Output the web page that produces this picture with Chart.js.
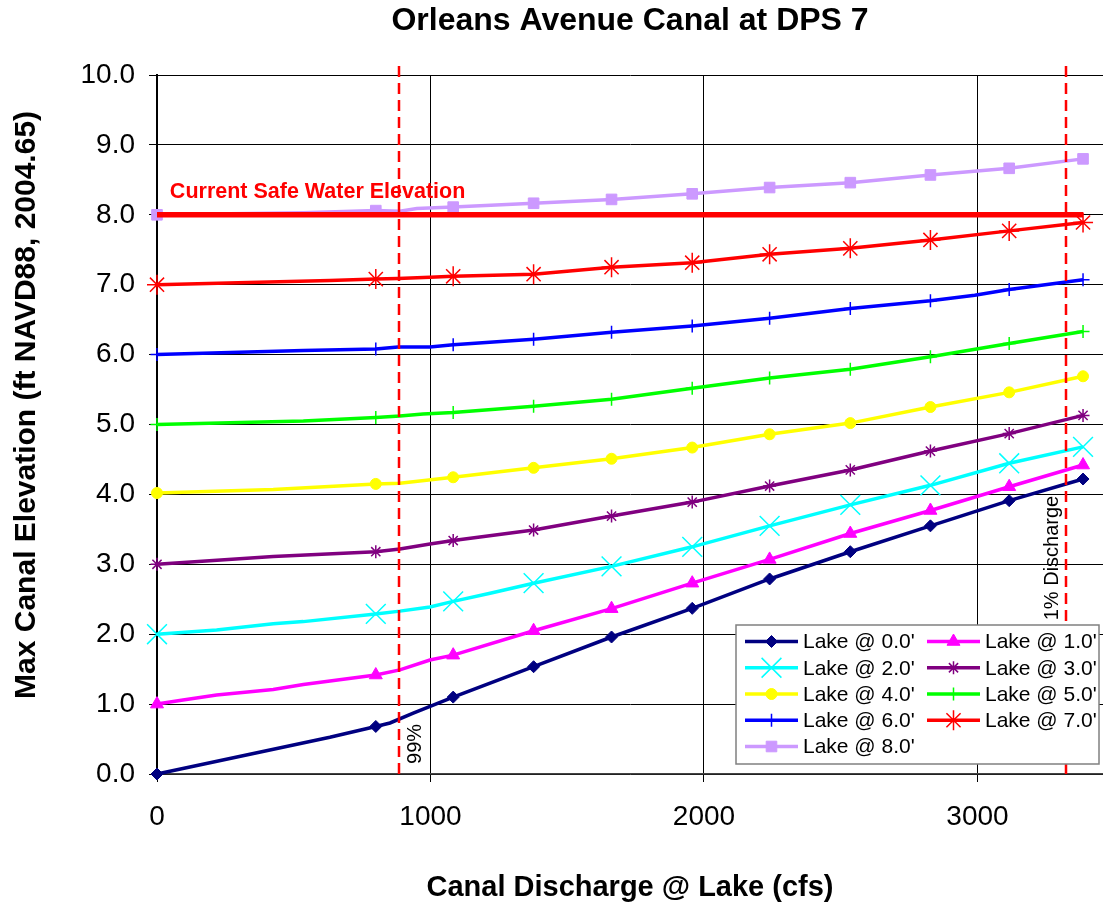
<!DOCTYPE html>
<html>
<head>
<meta charset="utf-8">
<script src="https://cdn.jsdelivr.net/npm/chart.js@4.4.0/dist/chart.umd.min.js"></script>
<style>
  html, body { margin: 0; padding: 0; background: #fff; }
</style>
</head>
<body>
<canvas id="canal-chart" width="1103" height="906"></canvas>
<script>
// discharge values where each curve carries a marker
const markerX = [0, 800, 1083, 1377, 1662, 1957, 2240, 2535, 2828, 3116, 3386];
const dischargeTicks = [0, 1000, 2000, 3000];

// [discharge cfs, max canal elevation ft] per lake level
const lake0 = [[0, 0.0], [632, 0.525], [800, 0.68], [852, 0.73], [937, 0.87], [1083, 1.10], [1377, 1.535], [1662, 1.96], [1957, 2.37], [2240, 2.79], [2535, 3.18], [2828, 3.55], [3116, 3.91], [3386, 4.22]];
const lake1 = [[0, 1.0], [95, 1.06], [218, 1.13], [425, 1.21], [535, 1.28], [800, 1.416], [888, 1.49], [998, 1.63], [1083, 1.70], [1377, 2.05], [1662, 2.365], [1957, 2.73], [2240, 3.07], [2535, 3.44], [2828, 3.77], [3116, 4.11], [3386, 4.42]];
const lake2 = [[0, 2.0], [218, 2.06], [425, 2.15], [535, 2.18], [800, 2.29], [888, 2.33], [998, 2.39], [1083, 2.47], [1218, 2.585], [1377, 2.73], [1662, 2.97], [1957, 3.25], [2240, 3.55], [2535, 3.85], [2828, 4.13], [3116, 4.445], [3386, 4.68]];
const lake3 = [[0, 3.0], [425, 3.11], [800, 3.18], [888, 3.22], [998, 3.29], [1083, 3.34], [1377, 3.49], [1662, 3.69], [1957, 3.89], [2240, 4.12], [2535, 4.35], [2828, 4.62], [3116, 4.87], [3386, 5.13]];
const lake4 = [[0, 4.02], [425, 4.07], [800, 4.15], [888, 4.16], [1083, 4.245], [1377, 4.38], [1662, 4.51], [1957, 4.67], [2240, 4.86], [2535, 5.02], [2828, 5.25], [3116, 5.46], [3386, 5.69]];
const lake5 = [[0, 5.0], [535, 5.05], [800, 5.10], [888, 5.12], [973, 5.15], [1083, 5.17], [1377, 5.26], [1662, 5.36], [1957, 5.52], [2240, 5.665], [2535, 5.79], [2828, 5.97], [3116, 6.16], [3386, 6.33]];
const lake6 = [[0, 6.0], [535, 6.06], [800, 6.08], [881, 6.11], [998, 6.11], [1083, 6.14], [1377, 6.22], [1662, 6.32], [1957, 6.41], [2240, 6.52], [2535, 6.66], [2828, 6.77], [2990, 6.85], [3116, 6.93], [3386, 7.07]];
const lake7 = [[0, 7.0], [632, 7.06], [800, 7.08], [881, 7.09], [998, 7.105], [1083, 7.12], [1377, 7.15], [1662, 7.25], [1957, 7.315], [2240, 7.435], [2535, 7.52], [2828, 7.64], [3116, 7.77], [3386, 7.89]];
const lake8 = [[0, 8.0], [535, 8.03], [800, 8.06], [888, 8.05], [950, 8.09], [1083, 8.11], [1377, 8.165], [1662, 8.22], [1957, 8.30], [2240, 8.39], [2535, 8.46], [2828, 8.57], [3116, 8.665], [3386, 8.80]];

const lakeLabels = ["Lake @ 0.0'", "Lake @ 1.0'", "Lake @ 2.0'", "Lake @ 3.0'", "Lake @ 4.0'", "Lake @ 5.0'", "Lake @ 6.0'", "Lake @ 7.0'", "Lake @ 8.0'"];

const safeElevation = 8.0;
const safeRange = [0, 3386];
const discharge99 = 885;
const discharge1 = 3323;

const FONT = "'Liberation Sans', Arial, sans-serif";

const lakeStyles = [
  { color: "#000080", marker: "rectRot", r: 6, mw: 1 },
  { color: "#ff00ff", marker: "triangle", r: 7.5, mw: 1 },
  { color: "#00ffff", marker: "crossRot", r: 14, mw: 1.5 },
  { color: "#800080", marker: "star", r: 6.5, mw: 1.5 },
  { color: "#ffff00", marker: "circle", r: 5.5, mw: 1 },
  { color: "#00ff00", marker: "cross", r: 6.5, mw: 1.5 },
  { color: "#0000ff", marker: "cross", r: 6.5, mw: 1.5 },
  { color: "#ff0000", marker: "star", r: 10, mw: 1.5 },
  { color: "#cc99ff", marker: "rect", r: 7.5, mw: 1 },
];

const series = [lake0, lake1, lake2, lake3, lake4, lake5, lake6, lake7, lake8];

const datasets = series.map((pts, i) => {
  const s = lakeStyles[i];
  return {
    label: lakeLabels[i],
    data: pts.map(([x, y]) => ({ x, y })),
    borderColor: s.color,
    backgroundColor: s.color,
    borderWidth: 3.5,
    pointStyle: s.marker,
    pointRadius: (c) => (c.raw && markerX.includes(c.raw.x) ? s.r : 0),
    pointBorderWidth: s.mw,
    pointBorderColor: s.color,
    pointBackgroundColor: s.color,
    pointHoverRadius: 0,
    tension: 0,
    clip: false,
    order: -i,
  };
});

datasets.push({
  label: "",
  safeLine: true,
  data: safeRange.map((x) => ({ x, y: safeElevation })),
  borderColor: "#ff0000",
  borderWidth: 5.5,
  pointRadius: 0,
  tension: 0,
  order: -20,
});

function verticalText(ctx, text, cx, cy) {
  ctx.save();
  ctx.translate(cx, cy);
  ctx.rotate(-Math.PI / 2);
  ctx.textAlign = "center";
  ctx.textBaseline = "middle";
  ctx.fillText(text, 0, 0);
  ctx.restore();
}

// dashed discharge markers, text notes, y title and the boxed legend
const annotations = {
  id: "annotations",
  afterDatasetsDraw(chart) {
    const { ctx, chartArea, scales: { x, y } } = chart;
    ctx.save();
    ctx.strokeStyle = "#ff0000";
    ctx.lineWidth = 2.5;
    ctx.setLineDash([11, 6]);
    [discharge99, discharge1].forEach((v) => {
      const px = Math.round(x.getPixelForValue(v));
      ctx.beginPath();
      ctx.moveTo(px, chartArea.top - 9);
      ctx.lineTo(px, chartArea.bottom);
      ctx.stroke();
    });
    ctx.setLineDash([]);

    ctx.fillStyle = "#000";
    ctx.font = "20px " + FONT;
    verticalText(ctx, "99%", x.getPixelForValue(discharge99) + 16, y.getPixelForValue(0.43));
    verticalText(ctx, "1% Discharge", x.getPixelForValue(discharge1) - 13, y.getPixelForValue(3.09));

    ctx.font = "bold 30px " + FONT;
    verticalText(ctx, "Max Canal Elevation (ft NAVD88, 2004.65)", 27, y.getPixelForValue(5.28));

    ctx.fillStyle = "#ff0000";
    ctx.font = "bold 21.5px " + FONT;
    ctx.textAlign = "left";
    ctx.textBaseline = "alphabetic";
    ctx.fillText("Current Safe Water Elevation", x.getPixelForValue(47), y.getPixelForValue(safeElevation) - 17);
    ctx.restore();
  },
  afterDraw(chart) {
    const { ctx, chartArea } = chart;
    const items = chart.data.datasets.filter((d) => !d.safeLine);
    const boxR = chartArea.right - 4, boxB = chartArea.bottom - 10;
    const boxW = 363, boxH = 139;
    const boxL = boxR - boxW, boxT = boxB - boxH;
    ctx.save();
    ctx.fillStyle = "#fff";
    ctx.fillRect(boxL, boxT, boxW, boxH);
    ctx.strokeStyle = "#808080";
    ctx.lineWidth = 1.5;
    ctx.strokeRect(boxL, boxT, boxW, boxH);

    ctx.font = "21px " + FONT;
    ctx.textBaseline = "middle";
    ctx.textAlign = "left";
    items.forEach((d, i) => {
      const col = i % 2, row = Math.floor(i / 2);
      const x0 = boxL + 9 + col * 182;
      const yc = boxT + 16.5 + row * 26.25;
      ctx.strokeStyle = d.borderColor;
      ctx.lineWidth = 3.5;
      ctx.beginPath();
      ctx.moveTo(x0, yc);
      ctx.lineTo(x0 + 53, yc);
      ctx.stroke();
      const s = lakeStyles[i];
      ctx.fillStyle = s.color;
      ctx.strokeStyle = s.color;
      ctx.lineWidth = s.mw;
      Chart.helpers.drawPoint(ctx, { pointStyle: s.marker, radius: s.r, rotation: 0, borderWidth: s.mw }, x0 + 26.5, yc);
      ctx.fillStyle = "#000";
      ctx.fillText(d.label, x0 + 58, yc + 1);
    });
    ctx.restore();
  },
};

const ctx = document.getElementById("canal-chart").getContext("2d");
const chart = new Chart(ctx, {
  type: "line",
  data: { datasets },
  plugins: [annotations],
  options: {
    responsive: false,
    animation: false,
    devicePixelRatio: 1,
    layout: { autoPadding: false, padding: { left: 0, right: 0, top: 0, bottom: 0 } },
    plugins: {
      legend: { display: false },
      tooltip: { enabled: false },
      title: {
        display: true,
        fullSize: false,
        text: "Orleans Avenue Canal at DPS 7",
        color: "#000",
        font: { family: FONT, size: 32, weight: "bold" },
        padding: { top: 2, bottom: 34.6 },
      },
    },
    scales: {
      x: {
        type: "linear",
        min: 0,
        max: 3459,
        afterFit: (s) => { s.height = 132; },
        afterBuildTicks: (s) => { s.ticks = dischargeTicks.map((value) => ({ value })); },
        ticks: {
          autoSkip: false,
          color: "#000",
          padding: 18,
          maxRotation: 0,
          font: { family: FONT, size: 28 },
          callback: (v) => String(v),
        },
        grid: { color: "#000", lineWidth: 1, tickLength: 8 },
        border: { color: "#444", width: 1.5 },
        title: {
          display: true,
          text: "Canal Discharge @ Lake (cfs)",
          color: "#000",
          font: { family: FONT, size: 29, weight: "bold" },
          padding: { top: 0, bottom: 1 },
        },
      },
      y: {
        min: 0,
        max: 10,
        afterFit: (s) => { s.width = 157; },
        ticks: {
          stepSize: 1,
          color: "#000",
          padding: 14,
          font: { family: FONT, size: 28 },
          callback: (v) => v.toFixed(1),
        },
        grid: { color: "#000", lineWidth: 1, tickLength: 8 },
        border: { color: "#000", width: 2 },
      },
    },
  },
});
</script>
</body>
</html>
